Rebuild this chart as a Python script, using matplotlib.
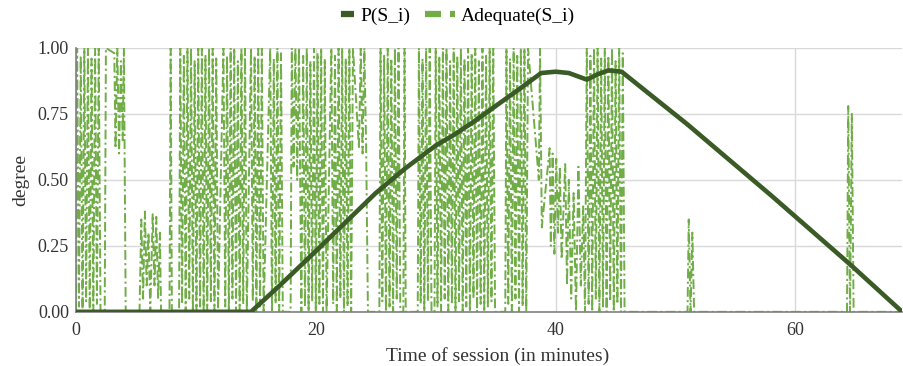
import matplotlib
matplotlib.use("Agg")
import matplotlib.pyplot as plt
from matplotlib.lines import Line2D

plt.rcParams['font.family'] = ['Liberation Serif', 'DejaVu Serif']

# P(S_i) curve (time in minutes, degree)
p_time = [0.0, 14.6, 17.0, 20.0, 22.5, 25.0, 27.5, 30.0, 31.5, 33.0, 35.0, 37.0,
          38.8, 40.0, 41.1, 42.0, 42.6, 43.5, 44.4, 45.5, 51.0, 58.0, 64.6, 68.9]
p_vals = [0.0, 0.0, 0.10, 0.23, 0.34, 0.45, 0.545, 0.63, 0.67, 0.715, 0.78, 0.845,
          0.905, 0.91, 0.905, 0.89, 0.88, 0.90, 0.915, 0.91, 0.71, 0.44, 0.178, 0.0]

# Adequate(S_i) series (time in minutes, degree)
adequate_time = [
    0.0, 0.1, 0.25, 0.4, 0.55, 0.7, 0.85, 1.0, 1.15, 1.3, 1.45, 1.6, 1.75, 1.9, 2.05,
    2.4, 2.5, 3.2, 3.3, 3.45, 3.6, 3.75, 3.9, 4.0, 4.15,
    5.3, 5.45, 5.6, 5.75, 5.9, 6.05, 6.2, 6.4, 6.55, 6.7, 6.85, 7.0, 7.1,
    7.8, 7.9, 8.0,
    8.6, 8.7, 8.85, 9.0, 9.15, 9.3, 9.45, 9.6, 9.75, 9.9, 10.05, 10.2, 10.35, 10.5,
    10.65, 10.8, 10.95, 11.1, 11.25, 11.4, 11.55, 11.7, 11.85,
    12.3, 12.45, 12.6, 12.75, 12.9, 13.05, 13.2, 13.35, 13.5, 13.65, 13.8, 13.95,
    14.1, 14.25,
    14.6, 14.75, 14.9, 15.05, 15.2, 15.35, 15.5, 15.65,
    16.2, 16.35, 16.5, 16.65, 16.8, 16.95, 17.1, 17.25,
    17.9, 18.0, 18.15, 18.3, 18.45, 18.6,
    18.8, 18.95, 19.1, 19.25, 19.4, 19.55, 19.7, 19.85, 20.0, 20.15, 20.3, 20.45,
    20.6, 20.75, 20.9,
    21.3, 21.45, 21.6, 21.75, 21.9, 22.05, 22.2, 22.35, 22.5, 22.65, 22.8, 22.95,
    23.1, 23.6, 23.75, 23.9, 24.05, 24.2, 24.35,
    25.3, 25.4, 25.55, 25.7, 25.85, 26.0, 26.15, 26.3, 26.45, 26.6, 26.75, 26.9, 27.05,
    27.3, 27.4, 27.5,
    28.5, 28.6, 28.75, 28.9, 29.05, 29.2, 29.35, 29.5, 29.65,
    29.9, 30.0, 30.15, 30.3, 30.45, 30.6, 30.75, 30.9, 31.05, 31.2, 31.35, 31.5,
    31.65, 31.8, 31.95, 32.1, 32.25, 32.4, 32.55, 32.7, 32.85, 33.0, 33.15, 33.3,
    33.45, 33.6, 33.75, 33.9, 34.05, 34.2, 34.35, 34.5, 34.65, 34.8, 34.95,
    35.8, 35.9, 36.05, 36.2, 36.35, 36.5, 36.65, 36.8, 36.95, 37.1, 37.25, 37.4,
    37.55, 37.7,
    38.6, 38.7, 38.85, 39.5, 39.6, 39.75, 39.9, 40.05, 40.2, 40.35, 40.5,
    40.8, 40.95, 41.1, 41.3, 41.5, 41.7, 41.9, 42.1, 42.3, 42.45,
    42.6, 42.75, 42.9, 43.05, 43.2, 43.35, 43.5, 43.65, 43.8, 43.95, 44.1, 44.25,
    44.4, 44.55, 44.7, 44.85, 45.0, 45.15, 45.3, 45.45, 45.6, 45.75, 45.9,
    51.0, 51.1, 51.25, 51.4, 51.55,
    64.3, 64.4, 64.55, 64.7, 64.85, 68.9,
]
adequate_vals = [
    0, 1, 0.02, 0.97, 0, 1, 0.04, 1, 0, 0.96, 0, 1, 0.03, 1, 0,
    0, 1, 0.98, 0.62, 1, 0.6, 0.95, 0.65, 1, 0,
    0, 0.35, 0.05, 0.38, 0.1, 0.3, 0, 0.37, 0.1, 0.36, 0.05, 0.3, 0,
    0, 1, 0,
    0, 1, 0.03, 0.97, 0, 1, 0.05, 1, 0, 0.95, 0, 1, 0.02, 1,
    0, 0.97, 0, 1, 0.04, 1, 0, 0.96, 0,
    1, 0.02, 0.97, 0, 1, 0.05, 1, 0, 0.95, 0, 1, 0.03,
    1, 0,
    1, 0.04, 0.97, 0, 1, 0.02, 1, 0,
    1, 0, 0.96, 0.03, 1, 0, 0.98, 0,
    0, 1, 0.55, 1, 0.5, 1,
    0, 0.97, 0.02, 1, 0, 0.95, 0.04, 1, 0, 0.98, 0.03, 1,
    0, 0.96, 0,
    1, 0.03, 0.97, 0, 1, 0.05, 1, 0, 0.96, 0.02, 1, 0,
    1, 0.62, 1, 0.6, 1, 0.62, 0,
    0, 1, 0.04, 0.97, 0, 1, 0.02, 0.96, 0, 1, 0.05, 1, 0,
    0, 1, 0,
    0, 1, 0.03, 0.96, 0, 1, 0.04, 1, 0,
    0, 1, 0.02, 0.97, 0, 1, 0.05, 1, 0, 0.95, 0.03, 1,
    0, 0.97, 0.04, 1, 0, 0.96, 0.02, 1, 0, 0.98, 0.05, 1,
    0, 0.95, 0.03, 1, 0, 0.97, 0.02, 1, 0.04, 1, 0,
    0, 1, 0.03, 0.96, 0, 1, 0.05, 0.97, 0, 1, 0.02, 1,
    0, 1,
    0.5, 1, 0.32, 0.62, 0.25, 0.6, 0.22, 0.58, 0.3, 0.55, 0.2,
    0.56, 0.1, 0.5, 0.05, 0.45, 0, 0.55, 0.1, 0.4, 0,
    1, 0.03, 0.97, 0, 1, 0.05, 1, 0, 0.96, 0.02, 1, 0,
    0.97, 0.04, 1, 0, 0.95, 0.03, 1, 0, 0.98, 0, 0,
    0, 0.35, 0, 0.3, 0,
    0, 0.78, 0, 0.75, 0, 0,
]

x_ticks = [0, 20, 40, 60]
y_ticks = [0.0, 0.25, 0.5, 0.75, 1.0]

light_green = '#70AD47'
dark_green = '#3A5A26'

fig = plt.figure(figsize=(9.04, 3.66), dpi=100)
ax = fig.add_axes([0.084, 0.148, 0.914, 0.721])

ax.plot(adequate_time, adequate_vals, color=light_green, lw=1.4,
        dashes=(5, 1.7, 1.1, 1.7), zorder=2, solid_capstyle='butt')
ax.plot(p_time, p_vals, color=dark_green, lw=3.3, zorder=3,
        solid_capstyle='round', solid_joinstyle='round')

ax.set_xlim(0, 68.9)
ax.set_ylim(0, 1.0)
ax.set_xticks(x_ticks)
ax.set_yticks(y_ticks)
ax.set_yticklabels([f"{v:.2f}" for v in y_ticks])
ax.tick_params(length=0, labelsize=13, colors='#333333', pad=5)
ax.tick_params(axis='x', pad=7)
ax.grid(True, color='#D9D9D9', lw=1.0, zorder=0)
ax.set_axisbelow(True)
for s in ['top', 'right']:
    ax.spines[s].set_visible(False)
for s in ['left', 'bottom']:
    ax.spines[s].set_color('#808080')
    ax.spines[s].set_linewidth(1.2)

ax.set_xlabel('Time of session (in minutes)', fontsize=14, color='#333333', labelpad=7)
ax.xaxis.set_label_coords(0.51, -0.135, transform=ax.transAxes)
ax.xaxis.label.set_va('top')
ax.set_ylabel('degree', fontsize=14, color='#333333', labelpad=6)

lw_h = 4.5
handles = [
    Line2D([0], [0], color=dark_green, lw=lw_h, solid_capstyle='butt',
           linestyle=(2.09, (2.09, 2.71)), dash_capstyle='butt'),
    Line2D([0], [0], color=light_green, lw=lw_h, dash_capstyle='butt',
           linestyle=(0, (2.56, 1.44, 0.8, 1.44))),
]
fig.legend(handles, ['P(S_i)', 'Adequate(S_i)'], loc='center',
           bbox_to_anchor=(0.497, 0.956), ncol=2, frameon=False, fontsize=14,
           handlelength=1.55, handletextpad=0.3, columnspacing=0.75)

fig.savefig('out.png', dpi=100)
